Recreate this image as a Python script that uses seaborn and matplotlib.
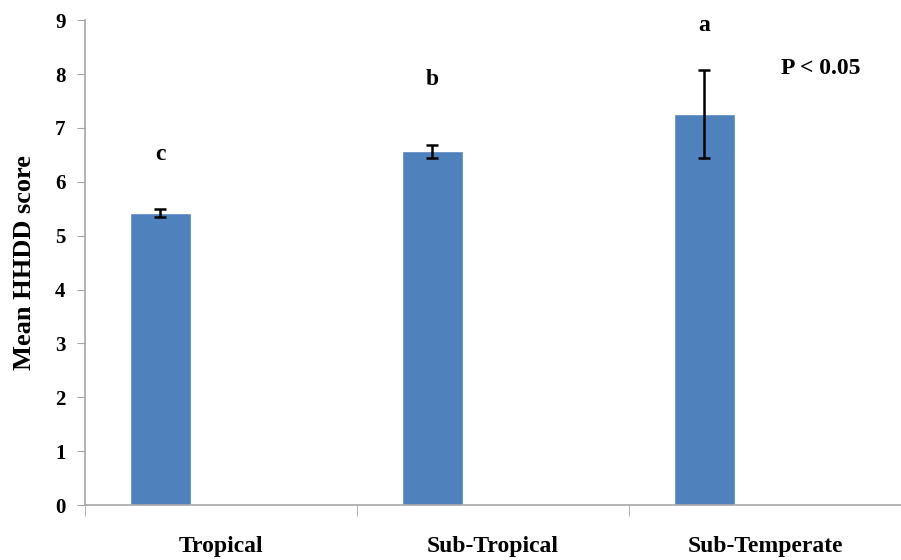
import pandas as pd
import seaborn as sns
import matplotlib.pyplot as plt

# values
regions = ["Tropical", "Sub-Tropical", "Sub-Temperate"]
mean_score = [5.42, 6.57, 7.26]
err = [0.07, 0.12, 0.82]
letters = ["c", "b", "a"]
letter_y = [6.5, 7.9, 8.9]

BLUE = "#4F81BD"
GRAY = "#A6A6A6"

df = pd.DataFrame({"Region": regions, "Score": mean_score, "Series": "HHDD"})

sns.set_style("white")
plt.rcParams["font.family"] = ["Liberation Serif", "DejaVu Serif"]
plt.rcParams["font.weight"] = "bold"
plt.rcParams["text.color"] = "black"
plt.rcParams["axes.labelcolor"] = "black"
plt.rcParams["xtick.labelcolor"] = "black"
plt.rcParams["ytick.labelcolor"] = "black"

fig = plt.figure(figsize=(9.01, 5.6), dpi=100)
ax = fig.add_axes([0.0943, 0.098, 0.9057, 0.866])

# Excel-like clustered layout: three series slots, only the first is filled
sns.barplot(data=df, x="Region", y="Score", hue="Series",
            hue_order=["HHDD", "s2", "s3"], palette=[BLUE, BLUE, BLUE],
            width=0.67, dodge=True, legend=False, ax=ax, saturation=1,
            errorbar=None)

for patch, e, lab, ly in zip(ax.patches, err, letters, letter_y):
    xc = patch.get_x() + patch.get_width() / 2
    yv = patch.get_height()
    ax.errorbar(xc, yv, yerr=e, fmt="none", ecolor="black",
                elinewidth=1.8, capsize=4, capthick=1.8)
    ax.text(xc, ly, lab, ha="center", va="center", fontsize=17, fontweight="bold")

ax.text(2.06, 8.1, "P < 0.05", ha="left", va="center", fontsize=17, fontweight="bold")

ax.set_ylim(0, 9)
ax.set_xlim(-0.5, 2.5)
ax.set_yticks(range(10))
ax.set_ylabel("Mean HHDD score", fontsize=19, fontweight="bold", labelpad=14)
ax.set_xlabel("")

sns.despine(ax=ax, top=True, right=True)
for side in ["left", "bottom"]:
    ax.spines[side].set_color(GRAY)
    ax.spines[side].set_linewidth(1.2)

ax.set_xticks([-0.5, 0.5, 1.5], minor=True)
ax.tick_params(axis="x", which="major", length=0, pad=22, labelsize=17)
ax.tick_params(axis="x", which="minor", length=8, color=GRAY, direction="out", bottom=True)
ax.tick_params(axis="y", length=6, color=GRAY, direction="out", left=True, labelsize=15, pad=8)
for t in ax.get_xticklabels() + ax.get_yticklabels():
    t.set_fontweight("bold")

fig.savefig("out.png", dpi=100)
